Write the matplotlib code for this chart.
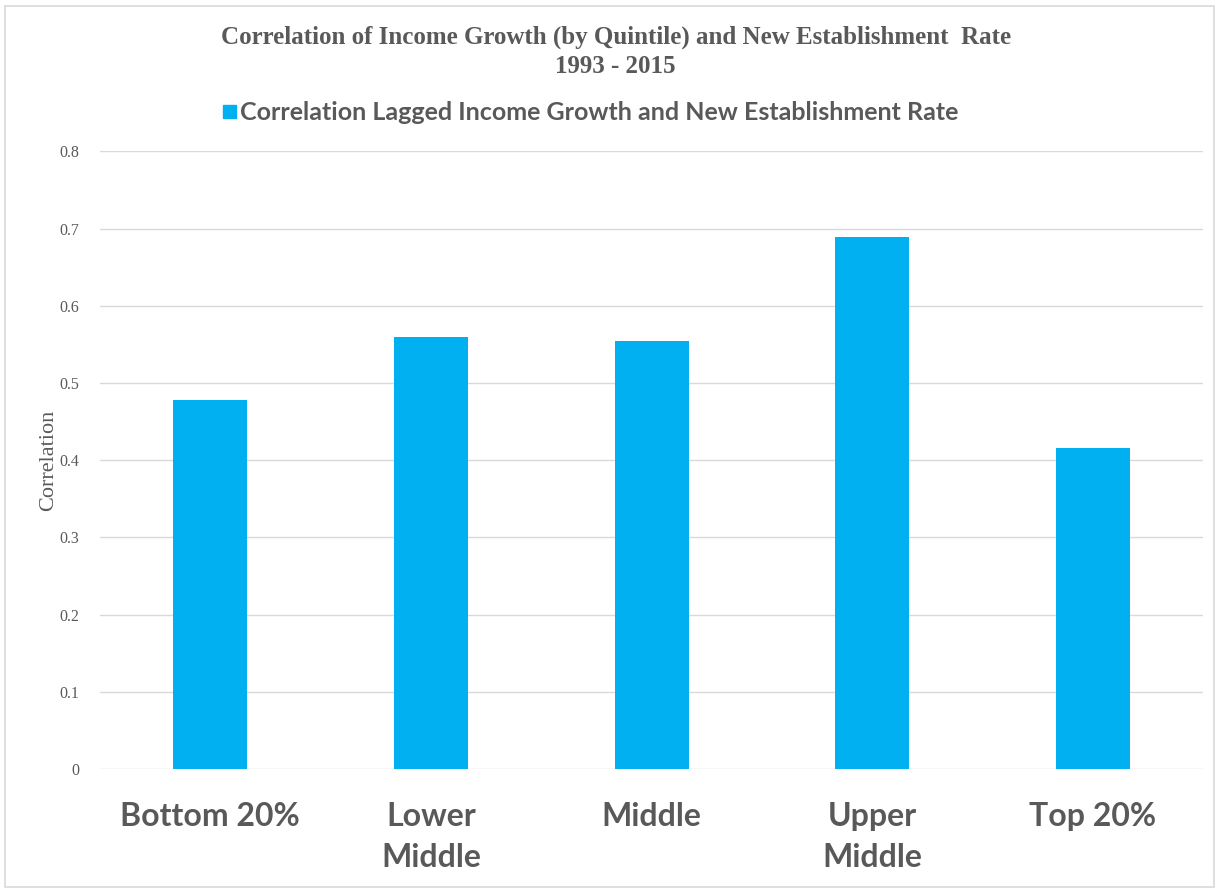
import matplotlib.pyplot as plt
from matplotlib.patches import Rectangle

categories = ['Bottom 20%', 'Lower\nMiddle', 'Middle', 'Upper\nMiddle', 'Top 20%']
correlation = [0.478, 0.559, 0.554, 0.689, 0.416]
series_name = 'Correlation Lagged Income Growth and New Establishment Rate'

bar_color = '#00B0F0'
text_gray = '#595959'
sans = ['Lato', 'DejaVu Sans']

fig = plt.figure(figsize=(12.19, 8.90), dpi=100)
ax = fig.add_axes([0.082, 0.136, 0.905, 0.694])

x = list(range(len(categories)))
ax.bar(x, correlation, width=0.335, color=bar_color, zorder=3)

ax.set_xlim(-0.5, len(categories) - 0.5)
ax.set_ylim(0, 0.8)
ax.set_yticks([i / 10 for i in range(9)])
ax.set_yticklabels(['0'] + ['%.1f' % (i / 10) for i in range(1, 9)],
                   family='Liberation Serif', fontsize=11.5, color=text_gray)
ax.set_xticks(x)
ax.set_xticklabels(categories, family=sans, fontsize=23, fontweight='bold',
                   color=text_gray, linespacing=1.5)
ax.tick_params(length=0)
ax.tick_params(axis='x', pad=24)
ax.tick_params(axis='y', pad=15)
ax.grid(axis='y', color='#d9d9d9', linewidth=1, zorder=0)
for s in ax.spines.values():
    s.set_visible(False)
ax.set_ylabel('Correlation', family='Liberation Serif', fontsize=16,
              color=text_gray, labelpad=1)

fig.text(0.505, 0.958, 'Correlation of Income Growth (by Quintile) and New Establishment  Rate',
         ha='center', va='center', family='Liberation Serif', fontweight='bold',
         fontsize=18, color=text_gray)
fig.text(0.505, 0.925, '1993 - 2015', ha='center', va='center',
         family='Liberation Serif', fontweight='bold', fontsize=18, color=text_gray)

# legend drawn by hand so it sits where the original does
fig.patches.append(Rectangle((0.183, 0.867), 0.0105, 0.0145, transform=fig.transFigure,
                             color=bar_color, figure=fig))
fig.text(0.197, 0.874, series_name, ha='left', va='center', family=sans,
         fontsize=18, fontweight='bold', color=text_gray)

# thin frame around the picture
fig.patches.append(Rectangle((0.004, 0.003), 0.992, 0.99, transform=fig.transFigure,
                             fill=False, edgecolor='#d9d9d9', linewidth=1.2, figure=fig))

fig.savefig('out.png', dpi=100)
